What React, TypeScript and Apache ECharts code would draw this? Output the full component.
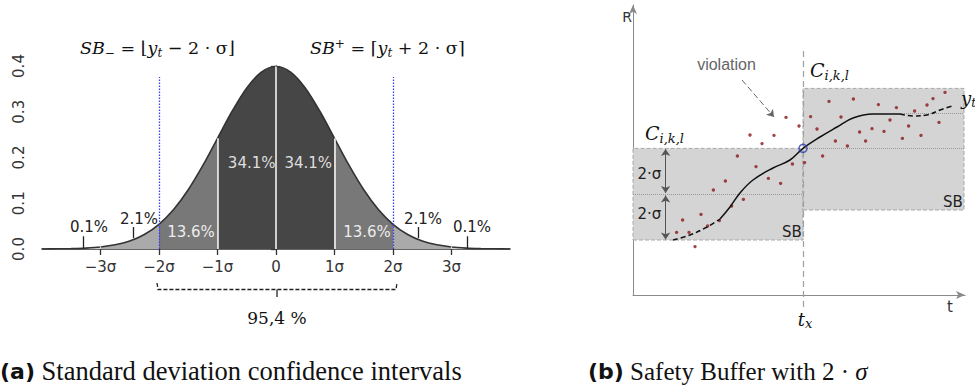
import React, { useEffect, useRef } from 'react';
import * as echarts from 'echarts';

// ---------- Left panel: standard normal density ----------
const densX = [-4, -3.75, -3.5, -3.25, -3, -2.75, -2.5, -2.25, -2, -1.75, -1.5, -1.25, -1, -0.75, -0.5, -0.25, 0,
  0.25, 0.5, 0.75, 1, 1.25, 1.5, 1.75, 2, 2.25, 2.5, 2.75, 3, 3.25, 3.5, 3.75, 4];
const densY = [0.0001, 0.0004, 0.0009, 0.002, 0.0044, 0.0091, 0.0175, 0.0317, 0.054, 0.0863, 0.1295, 0.1826, 0.242, 0.3011, 0.3521, 0.3867, 0.3989,
  0.3867, 0.3521, 0.3011, 0.242, 0.1826, 0.1295, 0.0863, 0.054, 0.0317, 0.0175, 0.0091, 0.0044, 0.002, 0.0009, 0.0004, 0.0001];
const bandEdges = [-4, -3, -2, -1, 1, 2, 3, 4];
const bandColors = ['#d2d2d2', '#aaaaaa', '#787878', '#464646', '#787878', '#aaaaaa', '#d2d2d2'];
const sigmaTicks = [-3, -2, -1, 0, 1, 2, 3];
const sigmaLabels = ['−3σ', '−2σ', '−1σ', '0', '1σ', '2σ', '3σ'];
const whiteLineX = [-1, 0, 1];
const faintLineX = [-3, 3];
const sbLineX = [-2, 2];
const sbLineTop = 0.376;
const calloutX = [-3.29, -2.44, 2.44, 3.27];
const calloutLow = [0.002, 0.024, 0.024, 0.002];
const calloutHigh = [0.028, 0.048, 0.048, 0.028];

// ---------- Right panel: safety buffer ----------
const obsT = [21.8, 24.8, 28, 31, 34, 37.3, 40.2, 43.2, 46.2, 49.3, 52.2, 55.2, 58.5, 61.5, 64.5, 67.7, 70.5, 73.8, 76.5, 79.7, 83, 85.8,
  88.8, 92, 94.8, 98, 101.2, 104, 107.2, 110.2, 113.3, 116.3, 119.5, 122.7, 125.5, 128.5, 131.7, 134.7, 137.8, 140.8, 144, 147, 150, 153, 156];
const obsR = [31.3, 37.5, 31.3, 24.2, 40.3, 34.5, 52.5, 37.2, 57, 44.5, 69.5, 47.8, 80, 64.2, 75.7, 58.3, 79.8, 55.8, 88.8, 65.5, 84.5, 66.2,
  89.2, 83, 69.5, 96.8, 77, 89, 74.5, 98, 81.5, 77, 83.2, 95.2, 81.8, 87.5, 93.7, 78.3, 84.5, 92, 79.8, 95, 98.2, 86.3, 101.3];
const trendT = [20, 28.5, 37, 43.5, 48.5, 53.5, 60, 70, 78.5, 85, 93.5, 102, 110, 120, 133.5, 140, 147, 153.5, 159.5];
const trendR = [27.5, 30, 34, 38, 44, 51, 57.5, 63.5, 67.5, 73.3, 79, 84, 88.5, 90.5, 90.5, 89.5, 90, 92.5, 94.5];
const solidFrom = 3;
const solidTo = 14;
const tx = 85;
const txR = 73.3;
// boxes: [tStart, tEnd, rLow, rHigh]
const leftBox = [0, 85, 27.5, 73.3];
const rightBox = [85, 165.5, 42.5, 103.3];
const leftMid = 50.4;
const plateauLevel = 91;

const densPts = densX.map((x, i) => [x, densY[i]]);
const heightAt = (x: number) => densY[densX.indexOf(x)];

const serif = 'DejaVu Serif';
const sans = 'DejaVu Sans';

function txt(x: number, y: number, text: string, extra: any = {}) {
  return {
    type: 'text',
    x,
    y,
    z: 100,
    style: {
      text,
      fontFamily: sans,
      fontSize: 15,
      fill: '#222',
      align: 'center',
      verticalAlign: 'middle',
      textAlign: 'center',
      textVerticalAlign: 'middle',
      ...extra,
    },
  };
}

const subRich = (size: number, pad: number, color = '#111') => ({
  fontFamily: serif,
  fontStyle: 'italic',
  fontSize: size,
  fill: color,
  color,
  padding: [pad, 0, 0, 0],
});
const supRich = (size: number, pad: number, color = '#111') => ({
  fontFamily: serif,
  fontSize: size,
  fill: color,
  color,
  padding: [0, 0, pad, 0],
});
const itRich = (size: number, color = '#111') => ({
  fontFamily: serif,
  fontStyle: 'italic',
  fontSize: size,
  fill: color,
  color,
});

function buildOption() {
  const bandSeries = bandColors.map((c, i) => ({
    type: 'line',
    xAxisIndex: 0,
    yAxisIndex: 0,
    data: densPts.filter((p) => p[0] >= bandEdges[i] && p[0] <= bandEdges[i + 1]),
    smooth: 0.3,
    symbol: 'none',
    lineStyle: { width: 0 },
    areaStyle: { color: c, opacity: 1 },
    silent: true,
    z: 1,
  }));

  const lineSeg = (xs: number[], y0s: number[], y1s: number[]) =>
    xs.map((x, i) => ({ coords: [[x, y0s[i]], [x, y1s[i]]] }));

  const series: any[] = [
    ...bandSeries,
    {
      type: 'line',
      xAxisIndex: 0,
      yAxisIndex: 0,
      data: densPts,
      smooth: 0.3,
      symbol: 'none',
      lineStyle: { color: '#333', width: 1.6 },
      silent: true,
      z: 3,
    },
    {
      type: 'lines',
      coordinateSystem: 'cartesian2d',
      xAxisIndex: 0,
      yAxisIndex: 0,
      data: lineSeg(whiteLineX, whiteLineX.map(() => 0), whiteLineX.map(heightAt)),
      lineStyle: { color: '#f2f2f2', width: 1.6, opacity: 1 },
      silent: true,
      z: 4,
    },
    {
      type: 'lines',
      coordinateSystem: 'cartesian2d',
      xAxisIndex: 0,
      yAxisIndex: 0,
      data: lineSeg(faintLineX, faintLineX.map(() => 0), faintLineX.map(() => 0.012)),
      lineStyle: { color: '#e6e6e6', width: 1.2, opacity: 0.8 },
      silent: true,
      z: 4,
    },
    {
      type: 'lines',
      coordinateSystem: 'cartesian2d',
      xAxisIndex: 0,
      yAxisIndex: 0,
      data: lineSeg(sbLineX, sbLineX.map(() => 0), sbLineX.map(() => sbLineTop)),
      lineStyle: { color: '#3a3aff', width: 1.3, type: [1.5, 1.5], opacity: 1 },
      silent: true,
      z: 5,
    },
    {
      type: 'lines',
      coordinateSystem: 'cartesian2d',
      xAxisIndex: 0,
      yAxisIndex: 0,
      data: lineSeg(calloutX, calloutLow, calloutHigh),
      lineStyle: { color: '#222', width: 1.3, opacity: 1 },
      silent: true,
      z: 5,
    },

    // ----- right panel -----
    {
      type: 'scatter',
      xAxisIndex: 1,
      yAxisIndex: 1,
      data: obsT.map((t, i) => [t, obsR[i]]),
      symbolSize: 3.4,
      itemStyle: { color: '#8a1616' },
      silent: true,
      z: 6,
      markArea: {
        silent: true,
        itemStyle: { color: '#d4d4d4', borderColor: '#a8a8a8', borderWidth: 1, borderType: 'dashed' },
        data: [
          [{ coord: [leftBox[0], leftBox[2]] }, { coord: [leftBox[1], leftBox[3]] }],
          [{ coord: [rightBox[0], rightBox[2]] }, { coord: [rightBox[1], rightBox[3]] }],
        ],
      },
    },
    {
      type: 'lines',
      coordinateSystem: 'cartesian2d',
      xAxisIndex: 1,
      yAxisIndex: 1,
      data: [
        { coords: [[leftBox[0], leftMid], [leftBox[1], leftMid]] },
        { coords: [[rightBox[0], txR], [rightBox[1], txR]] },
        { coords: [[trendT[solidTo], plateauLevel], [rightBox[1], plateauLevel]] },
      ],
      lineStyle: { color: '#9a9a9a', width: 1, type: 'dotted', opacity: 1 },
      silent: true,
      z: 3,
    },
    {
      type: 'lines',
      coordinateSystem: 'cartesian2d',
      xAxisIndex: 1,
      yAxisIndex: 1,
      clip: false,
      data: [{ coords: [[tx, -6], [tx, 124]] }],
      lineStyle: { color: '#a0a0a0', width: 1.2, type: [6, 4], opacity: 1 },
      silent: true,
      z: 3,
    },
    {
      type: 'lines',
      coordinateSystem: 'cartesian2d',
      xAxisIndex: 1,
      yAxisIndex: 1,
      data: [
        { coords: [[16.3, leftBox[3] - 0.3], [16.3, leftMid + 0.6]] },
        { coords: [[16.3, leftMid - 0.6], [16.3, leftBox[2] + 0.3]] },
      ],
      symbol: ['arrow', 'arrow'],
      symbolSize: 7,
      lineStyle: { color: '#555', width: 1, opacity: 1 },
      silent: true,
      z: 7,
    },
    {
      type: 'lines',
      coordinateSystem: 'cartesian2d',
      xAxisIndex: 1,
      yAxisIndex: 1,
      data: [{ coords: [[54.5, 107.5], [70.5, 89]] }],
      symbol: ['none', 'arrow'],
      symbolSize: 7,
      lineStyle: { color: '#666', width: 1, type: [6, 3], opacity: 1 },
      silent: true,
      z: 7,
    },
    {
      type: 'line',
      xAxisIndex: 1,
      yAxisIndex: 1,
      data: trendT.slice(0, solidFrom + 1).map((t, i) => [t, trendR[i]]),
      smooth: 0.4,
      symbol: 'none',
      lineStyle: { color: '#111', width: 1.5, type: [5, 3] },
      silent: true,
      z: 8,
    },
    {
      type: 'line',
      xAxisIndex: 1,
      yAxisIndex: 1,
      data: trendT.slice(solidFrom, solidTo + 1).map((t, i) => [t, trendR[i + solidFrom]]),
      smooth: 0.4,
      symbol: 'none',
      lineStyle: { color: '#111', width: 1.5 },
      silent: true,
      z: 8,
    },
    {
      type: 'line',
      xAxisIndex: 1,
      yAxisIndex: 1,
      data: trendT.slice(solidTo).map((t, i) => [t, trendR[i + solidTo]]),
      smooth: 0.4,
      symbol: 'none',
      lineStyle: { color: '#111', width: 1.5, type: [5, 3] },
      silent: true,
      z: 8,
    },
    {
      type: 'scatter',
      xAxisIndex: 1,
      yAxisIndex: 1,
      data: [[tx, txR]],
      symbol: 'circle',
      symbolSize: 8,
      itemStyle: { color: 'rgba(0,0,0,0)', borderColor: '#2b3cae', borderWidth: 1.5 },
      silent: true,
      z: 10,
    },
  ];

  const graphic: any[] = [
    // left formulas
    txt(80, 48, '{i|SB}{sb|−} = ⌊{i|y}{sb|t} − 2 · σ⌋', {
      fontFamily: serif, fontSize: 17.5, fill: '#111', align: 'left', textAlign: 'left',
      rich: { i: itRich(17.5), sb: subRich(12, 9) },
    }),
    txt(310, 48, '{i|SB}{sp|+} = ⌈{i|y}{sb|t} + 2 · σ⌉', {
      fontFamily: serif, fontSize: 17.5, fill: '#111', align: 'left', textAlign: 'left',
      rich: { i: itRich(17.5), sb: subRich(12, 9), sp: supRich(12, 9) },
    }),
    // percentages
    txt(251.7, 163, '34.1%', { fill: '#dedede' }),
    txt(308.3, 163, '34.1%', { fill: '#dedede' }),
    txt(191, 232, '13.6%', { fill: '#ececec' }),
    txt(367, 232, '13.6%', { fill: '#ececec' }),
    txt(139, 219, '2.1%', { fill: '#222' }),
    txt(423, 219, '2.1%', { fill: '#222' }),
    txt(89, 227, '0.1%', { fill: '#222' }),
    txt(472, 227, '0.1%', { fill: '#222' }),
    {
      type: 'polyline',
      z: 100,
      shape: { points: [[157, 283], [158, 289.5], [396, 289.5], [397, 283]] },
      style: { stroke: '#222', fill: 'none', lineWidth: 1.3, lineDash: [4, 2] },
    },
    {
      type: 'polyline',
      z: 100,
      shape: { points: [[277, 289.5], [277, 297]] },
      style: { stroke: '#222', fill: 'none', lineWidth: 1.3 },
    },
    txt(277, 318, '95,4 %', { fontFamily: serif, fontSize: 17, fill: '#111' }),

    // right panel texts
    txt(627, 17, 'R', { fontSize: 14, fill: '#333' }),
    txt(950, 307, 't', { fontSize: 15, fill: '#333' }),
    txt(805, 319, '{i|t}{sb|x}', { fontFamily: serif, fontSize: 18, rich: { i: itRich(18), sb: subRich(13, 9) } }),
    txt(726.5, 64, 'violation', { fontFamily: 'Liberation Sans', fontSize: 16, fill: '#666' }),
    txt(645, 133, '{c|C}{sb|i,k,l}', {
      fontFamily: serif, fontSize: 19, align: 'left', textAlign: 'left',
      rich: { c: itRich(19), sb: subRich(13, 10) },
    }),
    txt(810, 70, '{c|C}{sb|i,k,l}', {
      fontFamily: serif, fontSize: 19, align: 'left', textAlign: 'left',
      rich: { c: itRich(19), sb: subRich(13, 10) },
    }),
    txt(649.3, 174, '2·σ', { fontSize: 15, fill: '#222' }),
    txt(649.3, 214, '2·σ', { fontSize: 15, fill: '#222' }),
    txt(792, 232, 'SB', { fontSize: 15, fill: '#222' }),
    txt(953, 202, 'SB', { fontSize: 15, fill: '#222' }),
    txt(961, 98, '{i|y}{sb|t}', {
      fontFamily: serif, fontSize: 18, align: 'left', textAlign: 'left',
      rich: { i: itRich(18), sb: subRich(12, 9) },
    }),

    // captions
    txt(0, 371, '{b|(a)} Standard deviation confidence intervals', {
      fontFamily: 'Liberation Serif', fontSize: 26.5, fill: '#111', align: 'left', textAlign: 'left',
      rich: { b: { fontFamily: sans, fontWeight: 'bold', fontSize: 22, fill: '#111', color: '#111' } },
    }),
    txt(588, 371, '{b|(b)} Safety Buffer with 2 · {s|σ}', {
      fontFamily: 'Liberation Serif', fontSize: 25, fill: '#111', align: 'left', textAlign: 'left',
      rich: {
        b: { fontFamily: sans, fontWeight: 'bold', fontSize: 22, fill: '#111', color: '#111' },
        s: { fontFamily: 'Liberation Serif', fontStyle: 'italic', fontSize: 25, fill: '#111', color: '#111' },
      },
    }),
  ];

  return {
    animation: false,
    backgroundColor: '#ffffff',
    grid: [
      { left: 42, top: 66, width: 468, height: 183 },
      { left: 633, top: 5, width: 332, height: 290 },
    ],
    xAxis: [
      {
        gridIndex: 0,
        type: 'value',
        min: -4,
        max: 4,
        interval: 1,
        axisLine: { show: true, onZero: true, lineStyle: { color: '#333', width: 1.6 } },
        axisTick: { show: true, customValues: sigmaTicks, length: 6, lineStyle: { color: '#333', width: 1.3 } },
        axisLabel: {
          show: true,
          customValues: sigmaTicks,
          margin: 10,
          fontFamily: sans,
          fontSize: 15,
          color: '#333',
          formatter: (v: number) => {
            const i = sigmaTicks.indexOf(v);
            return i >= 0 ? sigmaLabels[i] : '';
          },
        },
        splitLine: { show: false },
      },
      {
        gridIndex: 1,
        type: 'value',
        min: 0,
        max: 166,
        axisLine: { show: true, symbol: ['none', 'arrow'], symbolSize: [6, 9], lineStyle: { color: '#8a8a8a', width: 1 } },
        axisTick: { show: false },
        axisLabel: { show: false },
        splitLine: { show: false },
      },
    ],
    yAxis: [
      {
        gridIndex: 0,
        type: 'value',
        min: 0,
        max: 0.4,
        interval: 0.1,
        axisLine: { show: true, lineStyle: { color: '#333', width: 1.3 } },
        axisTick: { show: true, length: 5, lineStyle: { color: '#333', width: 1.3 } },
        axisLabel: {
          show: true,
          rotate: 90,
          margin: 16,
          fontFamily: sans,
          fontSize: 15,
          color: '#333',
          formatter: (v: number) => v.toFixed(1),
        },
        splitLine: { show: false },
      },
      {
        gridIndex: 1,
        type: 'value',
        min: 0,
        max: 145,
        axisLine: { show: true, symbol: ['none', 'arrow'], symbolSize: [6, 9], lineStyle: { color: '#8a8a8a', width: 1 } },
        axisTick: { show: false },
        axisLabel: { show: false },
        splitLine: { show: false },
      },
    ],
    series,
    graphic,
  };
}

export default function App() {
  const ref = useRef<HTMLDivElement>(null);
  useEffect(() => {
    if (!ref.current) return;
    const chart = echarts.init(ref.current, null, { renderer: 'svg' });
    chart.setOption(buildOption() as any);
    return () => chart.dispose();
  }, []);
  return (
    <div
      ref={ref}
      style={{ position: 'absolute', left: 0, top: 0, width: 975, height: 389, background: '#fff' }}
    />
  );
}
